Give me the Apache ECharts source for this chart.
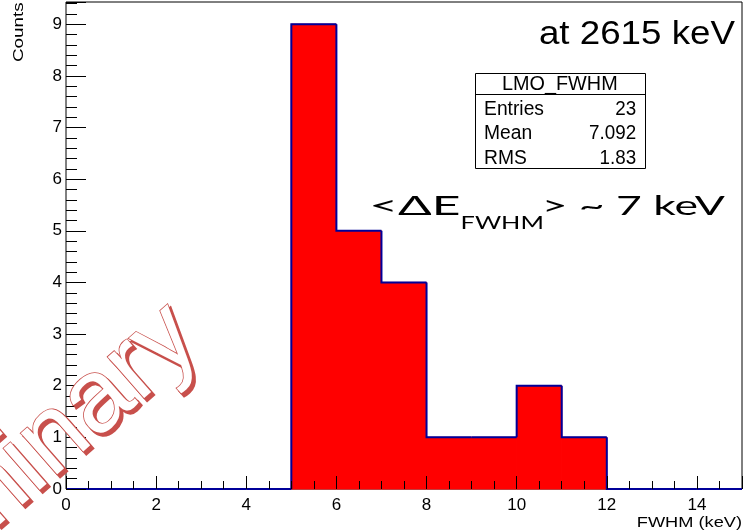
<!DOCTYPE html>
<html>
<head>
<meta charset="utf-8">
<script src="https://cdn.jsdelivr.net/npm/echarts@6.0.0/dist/echarts.min.js"></script>
<style>
  html, body { margin: 0; padding: 0; background: #fff; }
  #chart { width: 753px; height: 530px; }
</style>
</head>
<body>
<div id="chart"></div>
<script>
// LMO_FWHM histogram: 1 keV bins, lower edges and counts
const binLow = [0, 1, 2, 3, 4, 5, 6, 7, 8, 9, 10, 11, 12, 13, 14];
const binWidth = 1;
const counts = [0, 0, 0, 0, 0, 9, 5, 4, 1, 1, 2, 1, 0, 0, 0];

// axis tick labels
const xTickLabels = [0, 2, 4, 6, 8, 10, 12, 14];
const yTickLabels = [0, 1, 2, 3, 4, 5, 6, 7, 8, 9];

// statistics box
const statsTitle = 'LMO_FWHM';
const statsNames = ['Entries', 'Mean', 'RMS'];
const statsValues = ['23', '7.092', '1.83'];

const xAxisTitle = 'FWHM (keV)';
const yAxisTitle = 'Counts';
const energyNote = 'at 2615 keV';
const watermark = 'Preliminary';

const SANS = 'Liberation Sans';
const HIST_FILL = '#ff0000';
const HIST_LINE = '#000099';
const WM_RED = '#c8504c';

// ---- text helpers: measure ink extents and stretch a string horizontally
const mctx = document.createElement('canvas').getContext('2d');
function measure(str, size, family, weight) {
  mctx.font = (weight || 'normal') + ' ' + size + 'px "' + family + '"';
  const m = mctx.measureText(str);
  return { left: m.actualBoundingBoxLeft, ink: m.actualBoundingBoxLeft + m.actualBoundingBoxRight };
}
function fitText(str, size, family, weight, L, R) {
  const m = measure(str, size, family, weight);
  const s = (R - L) / m.ink;
  return { pos: L + m.left * s, s: s };
}
function textEl(str, size, family, weight, x, y, s, align) {
  return {
    type: 'text', x: x, y: y, scaleX: s, z: 100,
    style: {
      text: str, fontSize: size, fontFamily: family, fontWeight: weight || 'normal',
      fill: '#000', align: align || 'left', verticalAlign: 'middle'
    }
  };
}
function fittedText(str, size, family, weight, L, R, cy) {
  const f = fitText(str, size, family, weight, L, R);
  return textEl(str, size, family, weight, f.pos, cy, f.s);
}
// right-aligned ink at R with a given horizontal scale
function rightText(str, size, family, R, cy, s) {
  const m = measure(str, size, family);
  const x = R - (m.ink - m.left) * s;
  return textEl(str, size, family, 'normal', x, cy, s);
}

const histData = binLow.map((lo, i) => [lo, lo + binWidth, counts[i], i > 0 ? counts[i - 1] : 0]);
const lastIndex = histData.length - 1;

function renderBin(params, api) {
  const lo = api.value(0), hi = api.value(1), c = api.value(2), prev = api.value(3);
  const base = api.coord([lo, 0]);
  const top = api.coord([hi, c]);
  const children = [];
  if (c > 0) {
    children.push({
      type: 'rect', z2: 0,
      shape: { x: base[0], y: top[1], width: top[0] - base[0], height: base[1] - top[1] },
      style: { fill: HIST_FILL, stroke: HIST_FILL, lineWidth: 1 }
    });
  }
  const pts = [api.coord([lo, prev]), api.coord([lo, c]), api.coord([hi, c])];
  if (params.dataIndex === lastIndex) pts.push(api.coord([hi, 0]));
  children.push({
    type: 'polyline', z2: 1,
    shape: { points: pts },
    style: { stroke: HIST_LINE, lineWidth: 2, fill: null }
  });
  return { type: 'group', children: children };
}

// statistics box graphics
const box = { left: 475.5, right: 645.5, top: 73.5, sep: 94.5, bottom: 168.5 };
const rowY = [109.2, 133.5, 158.0];
const nameScale = fitText(statsNames[0], 20, SANS, 'normal', 485, 544).s;
const valScale = fitText(statsValues[1], 20, SANS, 'normal', 590, 636).s;
const statsGraphics = [
  { type: 'rect', z: 90, shape: { x: box.left, y: box.top, width: box.right - box.left, height: box.bottom - box.top },
    style: { fill: '#fff', stroke: '#000', lineWidth: 1 } },
  { type: 'line', z: 91, shape: { x1: box.left, y1: box.sep, x2: box.right, y2: box.sep },
    style: { stroke: '#000', lineWidth: 1 } },
  fittedText(statsTitle, 20, SANS, 'normal', 503, 617, 84.2)
];
statsNames.forEach((n, i) => {
  const m = measure(n, 20, SANS);
  statsGraphics.push(textEl(n, 20, SANS, 'normal', 485 + m.left * nameScale, rowY[i], nameScale));
  statsGraphics.push(rightText(statsValues[i], 20, SANS, 636, rowY[i], valScale));
});

// rotated y-axis title, ink running upward from y=62 to y=3
const yt = fitText(yAxisTitle, 15, SANS, 'normal', 3, 62);
const yTitle = {
  type: 'text', x: 19, y: 65 - yt.pos, rotation: Math.PI / 2, scaleX: yt.s, z: 100,
  style: { text: yAxisTitle, fontSize: 15, fontFamily: SANS, fill: '#000', align: 'left', verticalAlign: 'middle' }
};

// <ΔE_FWHM> ~ 7 keV annotation
const LATO = 'Lato';
const deltaParts = [
  fittedText('<\u0394E', 26.5, LATO, 'normal', 373, 460, 206.3),
  fittedText('FWHM', 17.6, LATO, 'normal', 462, 542, 223.7),
  fittedText('> ~ 7 keV', 26.5, LATO, 'normal', 545, 725, 206.3)
];

// watermark: red offset copy underneath, white-filled outlined text on top
const wmAngle = 0.72, wmX = 185, wmY = 324, wmSize = 104;
function wmText(dx, dy, fill, lw) {
  return {
    type: 'text', x: wmX + dx, y: wmY + dy, rotation: wmAngle, z: 200,
    style: {
      text: watermark, fontSize: wmSize, fontFamily: SANS, fontWeight: 'normal',
      fill: fill, stroke: WM_RED, lineWidth: lw,
      align: 'right', verticalAlign: 'middle'
    }
  };
}
const wmEls = [wmText(3, 3, WM_RED, 2.2), wmText(0, 0, '#ffffff', 1.6)];

const chart = echarts.init(document.getElementById('chart'), null, { renderer: 'canvas' });
chart.setOption({
  animation: false,
  backgroundColor: '#fff',
  grid: {
    left: 66, right: 11, top: 2, bottom: 41,
    show: true, borderColor: '#000', borderWidth: 1, backgroundColor: 'transparent',
    outerBoundsMode: 'none', containLabel: false
  },
  xAxis: {
    type: 'value', min: 0, max: 15, interval: 2, z: 10,
    axisLine: { show: false },
    splitLine: { show: false },
    axisTick: { show: true, inside: true, length: 13, lineStyle: { color: '#000', width: 1 } },
    minorTick: { show: true, splitNumber: 4, length: 8, lineStyle: { color: '#000', width: 1 } },
    axisLabel: {
      margin: 8, fontSize: 17, fontFamily: SANS, color: '#000',
      formatter: v => (xTickLabels.indexOf(v) >= 0 ? String(v) : '')
    }
  },
  yAxis: {
    type: 'value', min: 0, max: 9.43, interval: 1, z: 10,
    axisLine: { show: false },
    splitLine: { show: false },
    axisTick: { show: true, inside: true, length: 20, lineStyle: { color: '#000', width: 1 } },
    minorTick: { show: true, splitNumber: 5, length: 11, lineStyle: { color: '#000', width: 1 } },
    axisLabel: {
      margin: 4, fontSize: 17, fontFamily: SANS, color: '#000',
      formatter: v => (yTickLabels.indexOf(v) >= 0 ? String(v) : '')
    }
  },
  series: [{
    type: 'custom',
    name: statsTitle,
    data: histData,
    encode: { x: [0, 1], y: 2 },
    renderItem: renderBin,
    clip: false,
    z: 2
  }],
  graphic: {
    elements: [].concat(
      statsGraphics,
      [yTitle,
       fittedText(xAxisTitle, 15, SANS, 'normal', 638, 742, 522.5),
       fittedText(energyNote, 33, SANS, 'normal', 540, 735, 35)],
      deltaParts,
      wmEls
    )
  }
});
</script>
</body>
</html>
